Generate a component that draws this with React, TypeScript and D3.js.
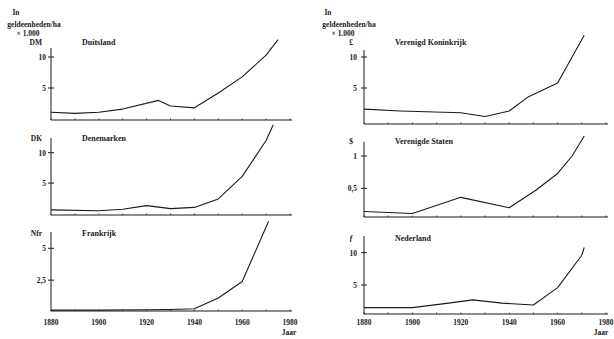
import * as d3 from 'd3';

// jaren en waarden per land (in geldeenheden/ha x 1.000)
const yearsDE = [1880, 1890, 1900, 1910, 1925, 1930, 1940, 1950, 1960, 1970, 1975];
const valuesDE = [1.1, 0.9, 1.1, 1.6, 3.0, 2.1, 1.8, 4.2, 6.8, 10.3, 12.8];

const yearsDK = [1880, 1900, 1910, 1920, 1930, 1940, 1950, 1960, 1970, 1973];
const valuesDK = [0.6, 0.45, 0.7, 1.3, 0.8, 1.0, 2.4, 6.1, 12.0, 14.6];

const yearsFR = [1880, 1900, 1920, 1930, 1940, 1950, 1960, 1971];
const valuesFR = [0.15, 0.15, 0.18, 0.2, 0.25, 1.1, 2.4, 7.1];

const yearsVK = [1880, 1895, 1920, 1930, 1940, 1948, 1960, 1971];
const valuesVK = [1.6, 1.3, 1.0, 0.4, 1.3, 3.6, 5.8, 13.5];

const yearsVS = [1880, 1900, 1920, 1940, 1951, 1960, 1966, 1971];
const valuesVS = [0.14, 0.11, 0.36, 0.2, 0.47, 0.73, 1.0, 1.31];

const yearsNL = [1880, 1900, 1915, 1925, 1937, 1950, 1960, 1970, 1971];
const valuesNL = [1.5, 1.5, 2.2, 2.7, 2.2, 1.9, 4.6, 9.6, 10.8];

const xTickLabels = [1880, 1900, 1920, 1940, 1960, 1980];

const FONT = '"Liberation Serif", "DejaVu Serif", serif';
const INK = '#1a1a1a';

type PanelProps = {
  years: number[];
  values: number[];
  title: string;
  unit: string;
  ticks: number[];
  tickText: string[];
  side: 'left' | 'right';
  y0: number; // pixel of value 0
  yTick: number; // pixel of last tick
  axisY: number;
  axisTop: number;
  showYears: boolean;
};

function Panel(p: PanelProps) {
  const xRange = p.side === 'left' ? [51, 290] : [364, 606];
  const x = d3.scaleLinear().domain([1880, 1980]).range(xRange);
  const last = p.ticks[p.ticks.length - 1];
  const y = d3.scaleLinear().domain([0, last]).range([p.y0, p.yTick]);
  const ax = xRange[0];
  const line = d3
    .line<number>()
    .x((_, i) => x(p.years[i]))
    .y((d) => y(d))
    .curve(d3.curveLinear);
  const minor = d3.range(1880, 1981, 10);
  const unitX = ax - (p.side === 'left' ? 9 : 11);
  const labX = ax - (p.side === 'left' ? 5 : 7);

  return (
    <g fontFamily={FONT} fontWeight="bold" fill={INK}>
      {/* y-as */}
      <line x1={ax} x2={ax} y1={p.axisTop} y2={p.axisY} stroke={INK} strokeWidth={1} />
      {p.ticks.map((t, i) => (
        <g key={t}>
          <line x1={ax - 3} x2={ax + 3} y1={y(t)} y2={y(t)} stroke={INK} strokeWidth={1} />
          <text x={labX} y={y(t) + 2.8} fontSize={7.5} textAnchor="end">
            {p.tickText[i]}
          </text>
        </g>
      ))}
      {/* x-as */}
      <line x1={ax} x2={xRange[1] + 2} y1={p.axisY} y2={p.axisY} stroke={INK} strokeWidth={1} />
      {minor.map((m) => (
        <line key={m} x1={x(m)} x2={x(m)} y1={p.axisY} y2={p.axisY - 1.5} stroke={INK} strokeWidth={0.8} />
      ))}
      {p.showYears &&
        xTickLabels.map((t) => (
          <text key={t} x={x(t)} y={325} fontSize={7.5} textAnchor="middle">
            {t}
          </text>
        ))}
      {p.showYears && (
        <text x={p.side === 'left' ? xRange[1] - 1 : xRange[1] - 5} y={335} fontSize={7.5} textAnchor="middle">
          Jaar
        </text>
      )}
      <text x={unitX} y={p.yTick - 12} fontSize={7.5} textAnchor="end" fontStyle={p.unit === 'ƒ' ? 'italic' : 'normal'}>
        {p.unit}
      </text>
      <text x={ax + 31} y={p.yTick - 12} fontSize={8}>
        {p.title}
      </text>
      <path d={line(p.values) ?? ''} fill="none" stroke={INK} strokeWidth={1.1} strokeLinejoin="round" />
    </g>
  );
}

function Header({ cx, inX }: { cx: number; inX: number }) {
  return (
    <g fontFamily={FONT} fontWeight="bold" fill={INK} fontSize={7.5} textAnchor="middle">
      <text x={inX} y={14.5}>In</text>
      <text x={cx} y={26.5}>geldeenheden/ha</text>
      <text x={cx - 6} y={35.5}>× 1.000</text>
    </g>
  );
}

export default function App() {
  return (
    <svg width={614} height={339} style={{ position: 'absolute', left: 0, top: 0, background: '#fff' }}>
      <rect width={614} height={339} fill="#fff" />
      <Header cx={34} inX={16} />
      <Header cx={349} inX={328} />

      <Panel years={yearsDE} values={valuesDE} title="Duitsland" unit="DM" ticks={[5, 10]} tickText={['5', '10']}
        side="left" y0={119} yTick={57} axisY={120} axisTop={48} showYears={false} />
      <Panel years={yearsDK} values={valuesDK} title="Denemarken" unit="DK" ticks={[5, 10]} tickText={['5', '10']}
        side="left" y0={213.5} yTick={152.7} axisY={215} axisTop={138} showYears={false} />
      <Panel years={yearsFR} values={valuesFR} title="Frankrijk" unit="Nfr" ticks={[2.5, 5]} tickText={['2,5', '5']}
        side="left" y0={312} yTick={248.3} axisY={311} axisTop={232} showYears={true} />

      <Panel years={yearsVK} values={valuesVK} title="Verenigd Koninkrijk" unit="£" ticks={[5, 10]} tickText={['5', '10']}
        side="right" y0={119} yTick={57} axisY={124} axisTop={50} showYears={false} />
      <Panel years={yearsVS} values={valuesVS} title="Verenigde Staten" unit="$" ticks={[0.5, 1]} tickText={['0,5', '1']}
        side="right" y0={220.6} yTick={156} axisY={217} axisTop={142} showYears={false} />
      <Panel years={yearsNL} values={valuesNL} title="Nederland" unit="ƒ" ticks={[5, 10]} tickText={['5', '10']}
        side="right" y0={317.3} yTick={252.7} axisY={314} axisTop={236} showYears={true} />
    </svg>
  );
}
